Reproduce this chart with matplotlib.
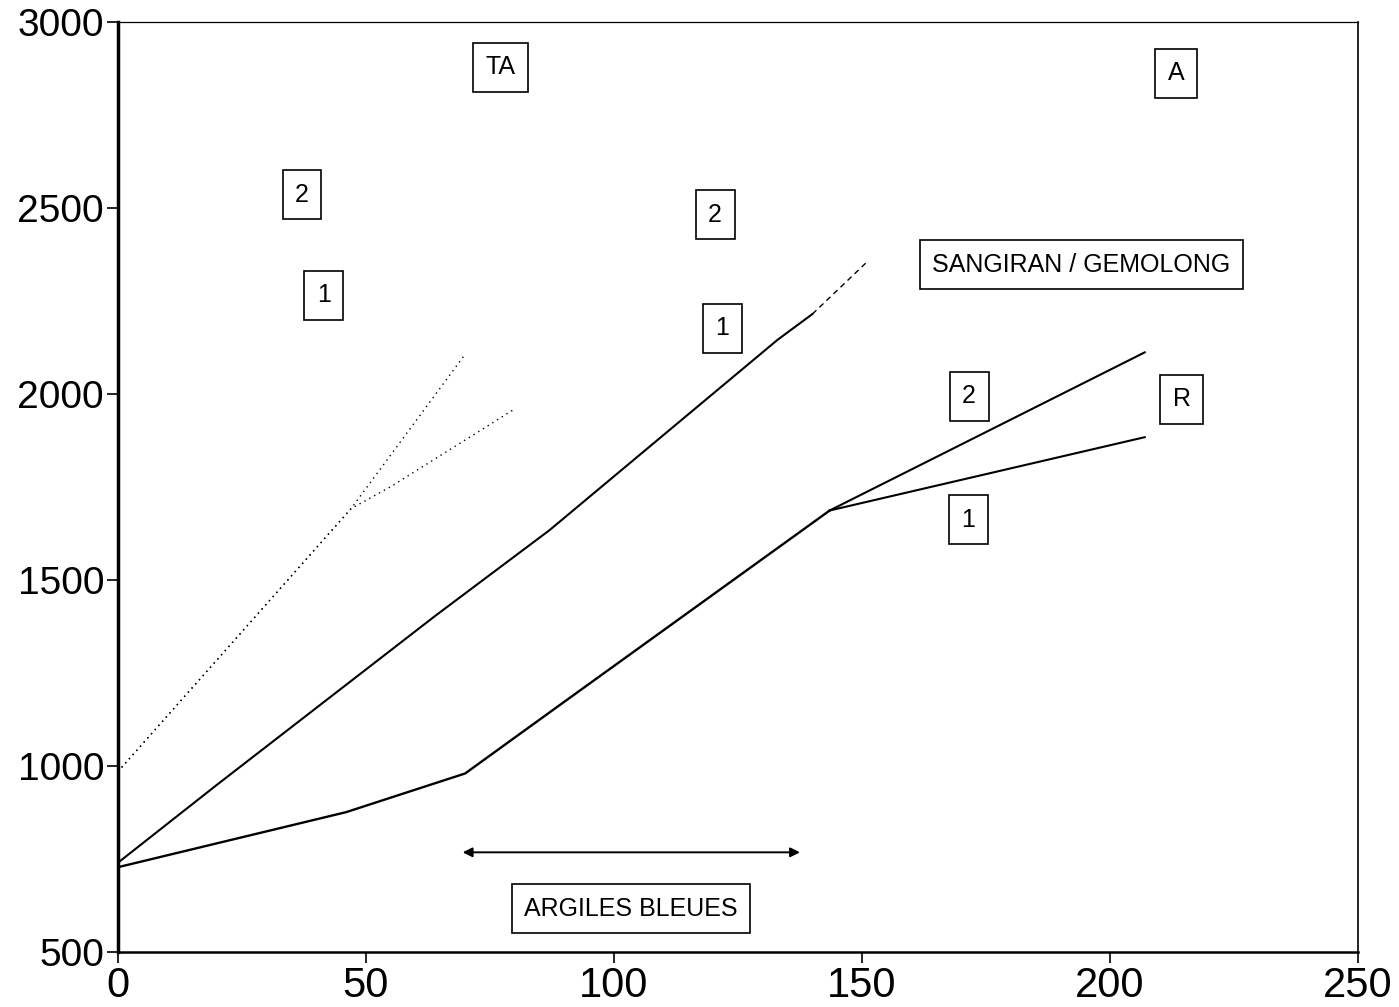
import matplotlib
matplotlib.use("Agg")
import matplotlib.pyplot as plt

plt.rcParams['font.family'] = ['Liberation Sans', 'DejaVu Sans']

# TA (dotted, faded in the original)
ta1_x = [0, 47, 55, 80]
ta1_y = [985, 1692, 1751, 1960]
ta2_x = [0, 47, 70]
ta2_y = [985, 1692, 2107]

# SANGIRAN / GEMOLONG curve 1
sg1_x = [0, 20, 64, 87, 133, 140]
sg1_y = [740, 950, 1404, 1634, 2146, 2215]
sg1_tail_x = [140, 151]
sg1_tail_y = [2215, 2355]

# R, common trunk then two branches
r_x = [0, 46, 70, 87, 143.5]
r_y = [728, 876, 980, 1144, 1687]
r2_x = [143.5, 207]
r2_y = [1687, 2112]
r1_x = [143.5, 207]
r1_y = [1687, 1884]

# ARGILES BLEUES range
argiles_x = [69.5, 137.5]
argiles_y = 768

labels = ["TA", "A", "2", "1", "2", "1", "SANGIRAN / GEMOLONG", "2", "R", "1", "ARGILES BLEUES"]
label_x = [77.2, 213.3, 37.1, 41.5, 120.4, 121.8, 194.2, 171.6, 214.5, 171.4, 103.4]
label_y = [2879, 2862, 2536, 2266, 2482, 2177, 2347, 1994, 1986, 1662, 616]

fig = plt.figure(figsize=(13.99, 10.07), dpi=100)
ax = fig.add_axes([0.0843, 0.0546, 0.8864, 0.9235])

ax.plot(ta1_x, ta1_y, color="black", lw=1.0, ls=(0, (1, 3)))
ax.plot(ta2_x, ta2_y, color="black", lw=1.0, ls=(0, (1, 3)))
ax.plot(sg1_x, sg1_y, color="black", lw=1.5)
ax.plot(sg1_tail_x, sg1_tail_y, color="black", lw=1.0, ls=(0, (4, 3)))
ax.plot(r_x, r_y, color="black", lw=1.7)
ax.plot(r2_x, r2_y, color="black", lw=1.5)
ax.plot(r1_x, r1_y, color="black", lw=1.5)

ax.annotate("", xy=(argiles_x[1], argiles_y), xytext=(argiles_x[0], argiles_y),
            arrowprops=dict(arrowstyle="<|-|>", color="black", lw=1.4,
                            mutation_scale=14, shrinkA=0, shrinkB=0))

for txt, lx, ly in zip(labels, label_x, label_y):
    ax.text(lx, ly, txt, ha="center", va="center", fontsize=18,
            bbox=dict(boxstyle="square,pad=0.5", fc="white", ec="black", lw=1.2))

ax.set_xlim(0, 250)
ax.set_ylim(500, 3000)
ax.set_xticks([0, 50, 100, 150, 200, 250])
ax.set_yticks([500, 1000, 1500, 2000, 2500, 3000])
ax.tick_params(direction="out", length=8, width=1.2, labelsize=28, pad=2)
ax.tick_params(axis="x", labelsize=30)

ax.spines["left"].set_linewidth(2.5)
ax.spines["bottom"].set_linewidth(1.8)
ax.spines["top"].set_linewidth(0.9)
ax.spines["right"].set_linewidth(1.2)

fig.savefig("out.png", dpi=100, facecolor="white")
